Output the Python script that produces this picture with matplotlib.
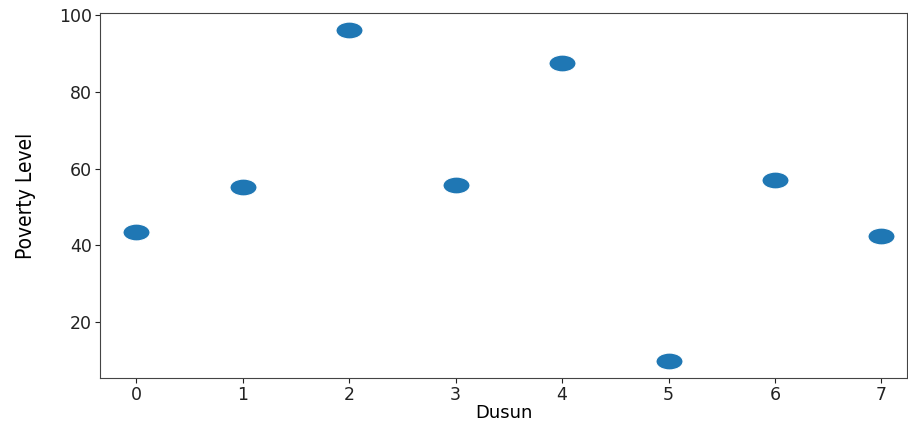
import matplotlib
matplotlib.use("Agg")
import matplotlib.pyplot as plt
from matplotlib.path import Path
from matplotlib.transforms import Affine2D

dusun = [0, 1, 2, 3, 4, 5, 6, 7]
poverty = [43.5, 55.2, 96.3, 55.6, 87.5, 9.6, 56.9, 42.4]

# the reference looks stretched sideways, so use an ellipse marker
ellipse = Path.unit_circle().transformed(Affine2D().scale(1.6, 1.0))

fig = plt.figure(figsize=(9.08, 4.21), dpi=100)
ax = fig.add_axes([100 / 908, 43 / 421, 807 / 908, 365 / 421])

ax.scatter(dusun, poverty, s=380, marker=ellipse, color="#1f77b4",
           edgecolors="white", linewidths=0.8)

ax.set_xlim(-0.34, 7.24)
ax.set_xticks(dusun)
ax.set_yticks([20, 40, 60, 80, 100])

ax.set_xlabel("Dusun", fontsize=13, labelpad=0)
ax.set_ylabel("Poverty Level", fontsize=15, labelpad=16,
              fontstretch="condensed")
ax.tick_params(axis="both", labelsize=12.5, colors="#222222", pad=2.5)
for s in ax.spines.values():
    s.set_color("#444444")

fig.savefig("out.png", dpi=100)
